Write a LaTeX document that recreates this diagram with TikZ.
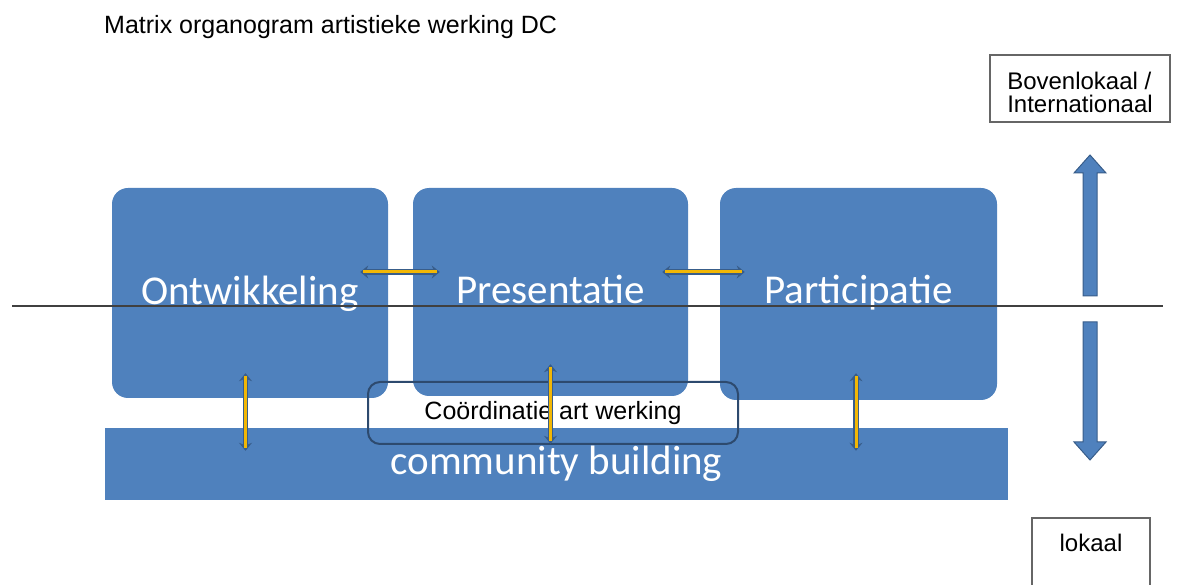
\documentclass[tikz,border=0pt]{standalone}
\usepackage{fontspec}
\setmainfont{Liberation Sans}
\newfontfamily\calibri{Carlito}
\usetikzlibrary{arrows.meta}

\definecolor{boxblue}{HTML}{4F81BD}
\definecolor{boxedge}{HTML}{385D8A}
\definecolor{linkgold}{HTML}{F2B705}
\definecolor{framegray}{HTML}{666666}

\begin{document}
\begin{tikzpicture}[x=1pt,y=-1pt]
    \useasboundingbox (0,0) rectangle (1187,585);
    \node[anchor=base west,inner sep=0,font=\fontsize{25}{28}\selectfont] (title) at (104,34) {Matrix organogram artistieke werking DC};

    \begin{scope}[every node/.style={rectangle,rounded corners=16,inner sep=0,
        fill=boxblue,text=white,text height=30,text depth=8,font=\calibri\fontsize{41}{46}\selectfont}]
        \node[minimum width=276,minimum height=210,text height=32,text depth=8] (ont) at (250,293) {Ontwikkeling};
        \node[minimum width=275,minimum height=208,text depth=6] (pres) at (550.5,292) {Presentatie};
        \node[minimum width=277,minimum height=212,text depth=10] (part) at (858.5,294) {Participatie};
        \node[rounded corners=0,minimum width=903,minimum height=72] (comm) at (556.5,464) {community building};
    \end{scope}

    \node[rectangle,rounded corners=12,draw=boxedge!80!black,line width=2,
        minimum width=370,minimum height=62,font=\fontsize{25}{28}\selectfont] (coord) at (553,413) {Coördinatie art werking};

    \coordinate (lineW) at (12,306);
    \coordinate (lineE) at (1163,306);
    \draw[line width=1.5,draw=black!75] (lineW) -- (lineE);

    \begin{scope}[every node/.style={rectangle,draw=framegray,line width=1.5,inner sep=0,
        font=\fontsize{24}{23}\selectfont}]
        \node[minimum width=180,minimum height=67,align=left] (boven) at (1080,88.5) {\rule{0pt}{26pt}Bovenlokaal /\\Internationaal};
        \node[minimum width=118,anchor=north,text height=34,text depth=50] (lok) at (1091,517) {lokaal};
    \end{scope}

    % block arrows between the levels
    \begin{scope}[fill=boxblue,draw=boxedge,line width=1]
        \filldraw (1083,296) -- (1083,173) -- (1074,173) -- (1090,155) -- (1106,173) -- (1097,173) -- (1097,296) -- cycle;
        \filldraw (1083,322) -- (1083,442) -- (1074,442) -- (1090,460) -- (1106,442) -- (1097,442) -- (1097,322) -- cycle;
    \end{scope}

    \begin{scope}[>={Stealth[length=8pt,width=13pt]},
        every edge/.style={draw=boxedge,line width=5.5,
            postaction={draw=linkgold,line width=3,-,shorten <=3,shorten >=3}}]
        \path [<->] ([xshift=-28,yshift=21]ont.east) edge ([xshift=27,yshift=20]pres.west);
        \path [<->] ([xshift=-26,yshift=20]pres.east) edge ([xshift=25,yshift=22]part.west);
        \path [<->] ([xshift=-4.5,yshift=25]ont.south) edge ([xshift=-4.5,yshift=-23]ont.south |- comm.north);
        \path [<->] ([yshift=32]pres.south) edge ([yshift=-16]pres.south |- comm.north);
        \path [<->] ([xshift=-2.5,yshift=27]part.south) edge ([xshift=-2.5,yshift=-23]part.south |- comm.north);
    \end{scope}
\end{tikzpicture}
\end{document}
